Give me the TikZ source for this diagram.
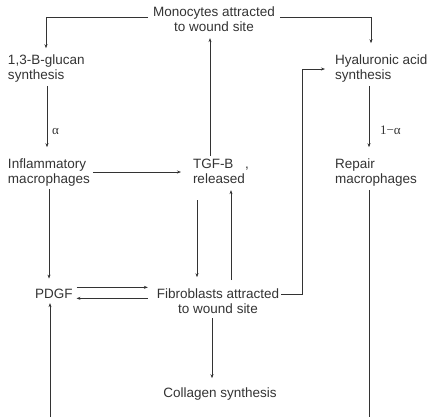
\documentclass[tikz,border=0pt]{standalone}
\usepackage{fontspec}
\setmainfont{Liberation Sans}
\newfontfamily\greekfont{Liberation Serif}
\usetikzlibrary{arrows.meta}
\tikzset{
  lbl/.style={inner sep=0pt, outer sep=0pt, text=black!80, font=\fontsize{13.5}{15}\selectfont},
  mlbl/.style={inner sep=0pt, outer sep=0pt, text=black!80, font=\greekfont\fontsize{13}{15}\selectfont},
  link/.style={draw=black!80, line width=0.6pt, -{Stealth[length=4pt,width=3pt]}},
  plain/.style={draw=black!80, line width=0.6pt}
}
\begin{document}
\begin{tikzpicture}[x=1pt,y=-1pt]
    \useasboundingbox (0,0) rectangle (430,417);
    % text of the boxes (base = last line)
    \node[lbl,anchor=base,align=center] (mono) at (214,32) {Monocytes attracted\\to wound site};
    \node[lbl,anchor=base west,align=left] (glucan) at (8,80) {1,3-B-glucan\\synthesis};
    \node[lbl,anchor=base west,align=left] (hyal) at (335,80) {Hyaluronic acid\\synthesis};
    \node[lbl,anchor=base west,align=left] (inflam) at (8,183) {Inflammatory\\macrophages};
    \node[lbl,anchor=base west,align=left] (tgf) at (193,183) {TGF-B\\released};
    \node[lbl,anchor=base west] (tick) at (245,168) {,};
    \node[lbl,anchor=base west,align=left] (repair) at (335,183) {Repair\\macrophages};
    \node[lbl,anchor=base west] (pdgf) at (35,298) {PDGF};
    \node[lbl,anchor=base,align=center] (fib) at (218,313) {Fibroblasts attracted\\to wound site};
    \node[lbl,anchor=base] (coll) at (220,397) {Collagen synthesis};
    \node[mlbl,anchor=base west] (alpha) at (52,134) {α};
    \node[mlbl,anchor=base west] (beta) at (380,134) {1−α};
    % columns of the connectors
    \coordinate (c0) at (46,0);
    \coordinate (c1) at (47,0);
    \coordinate (c2) at (49,0);
    \coordinate (c3) at (197,0);
    \coordinate (c4) at (210,0);
    \coordinate (c5) at (212,0);
    \coordinate (c6) at (231,0);
    \coordinate (rise) at (302,0);
    \coordinate (c7) at (369,0);
    \coordinate (c8) at (371,0);
    \coordinate (pbot) at (50,417);
    \coordinate (rbot) at (369,417);
    % connectors
    \draw[link, shorten <=5pt, shorten >=7pt] ([yshift=2.5pt]mono.west) -| (glucan.north -| c0);
    \draw[link, shorten <=5pt, shorten >=12pt] ([yshift=2.5pt]mono.east) -| (hyal.north -| c8);
    \draw[link, shorten <=3pt, shorten >=11pt] (glucan.south -| c1) -- (inflam.north -| c1);
    \draw[link, shorten <=3pt, shorten >=11pt] (hyal.south -| c7) -- (repair.north -| c7);
    \draw[link, shorten <=3pt, shorten >=12pt] (inflam.east) -- (inflam.east -| tgf.west);
    \draw[link, shorten <=3pt, shorten >=6pt] (tgf.north -| c4) -- (mono.south -| c4);
    \draw[link, shorten <=3pt, shorten >=10pt] (inflam.south -| c2) -- (pdgf.north -| c2);
    \draw[link, shorten <=17pt, shorten >=11pt] (tgf.south -| c3) -- (fib.north -| c3);
    \draw[link, shorten <=8pt, shorten >=7pt] (fib.north -| c6) -- (tgf.south -| c6);
    \draw[link, shorten <=4pt, shorten >=9pt] ([yshift=6pt]pdgf.east) -- ([yshift=6pt]pdgf.east -| fib.west);
    \draw[link, shorten <=9pt, shorten >=4pt] ([yshift=-5pt]pdgf.east -| fib.west) -- ([yshift=-5pt]pdgf.east);
    \draw[link, shorten >=10pt] ([xshift=2pt,yshift=-6pt]fib.north east) -| (rise |- hyal.west) -- (hyal.west);
    \draw[link, shorten <=5pt, shorten >=9pt] (fib.south -| c5) -- (coll.north -| c5);
    \draw[plain, shorten <=4pt] (repair.south -| rbot) -- (rbot);
    \draw[link, shorten >=5pt] (pbot) -- (pbot |- pdgf.south);
\end{tikzpicture}
\end{document}
